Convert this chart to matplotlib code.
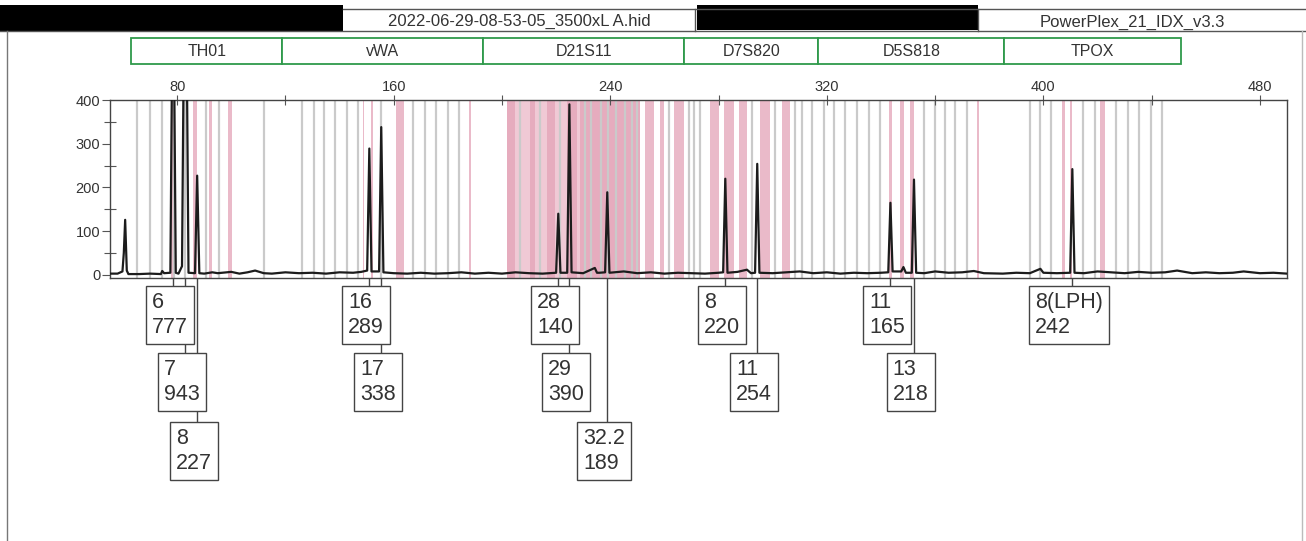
import matplotlib.pyplot as plt
import matplotlib.patches as mpatches

plt.rcParams['font.family'] = ['Liberation Sans', 'DejaVu Sans']

### DATA
header_file = '2022-06-29-08-53-05_3500xL A.hid'
header_kit = 'PowerPlex_21_IDX_v3.3'

loci = ['TH01', 'vWA', 'D21S11', 'D7S820', 'D5S818', 'TPOX']
locus_start = [63.0, 118.8, 193.1, 267.4, 316.9, 385.6]
locus_end = [118.8, 193.1, 267.4, 316.9, 385.6, 450.7]

# bins (bp)
gray_bins = [65.3, 70.0, 74.3, 78.9, 83.0, 90.6, 95.3, 112.2, 126.3, 130.4,
             134.4, 138.5, 142.7, 146.8, 155.3, 167.3, 171.6, 175.7, 179.9,
             184.0, 206.8, 214.1, 221.5, 230.5, 233.0, 236.5, 239.0, 242.0,
             245.5, 248.0, 250.0, 261.6, 269.0, 270.8, 273.3, 292.4, 301.0,
             308.4, 310.8, 314.5, 318.9, 322.5, 326.9, 331.2, 335.5, 339.8,
             355.8, 359.9, 363.8, 367.5, 371.8, 395.0, 398.9, 402.9, 414.7,
             418.9, 427.0, 431.2, 435.3, 439.6, 443.9]
pink_start = [77.6, 85.7, 91.7, 98.8, 148.5, 151.7, 161.0, 187.8, 201.8,
              210.5, 216.6, 224.0, 228.9, 253.0, 258.5, 263.4, 277.0, 281.9,
              287.4, 295.4, 303.5, 342.9, 347.2, 350.9, 375.5, 406.9, 410.0,
              421.1]
pink_end = [78.4, 87.5, 93.0, 100.4, 149.1, 152.3, 163.8, 188.4, 204.9,
            212.3, 219.7, 227.7, 251.1, 256.0, 259.7, 267.1, 280.0, 285.6,
            290.5, 299.1, 306.5, 344.1, 348.4, 352.1, 376.3, 408.1, 410.6,
            422.6]
pale_start = [201.8]
pale_end = [251.1]

# trace (bp, RFU)
trace_bp = [55, 58, 59.8, 60.3, 60.8, 61.4, 62, 66, 70, 74, 74.5, 75.2, 77.5,
            78.5, 79.5, 80.5, 81.8, 83.0, 84.2, 86.6, 87.4, 88.2, 90, 93, 95,
            100, 103, 106, 108.8, 112, 115, 120, 125, 130, 135, 140, 145, 148,
            150.2, 151.0, 151.8, 154.6, 155.4, 156.2, 160, 165, 170, 175, 180,
            185, 190, 195, 200, 205, 210, 215, 220.0, 220.8, 221.6, 224.1,
            224.9, 225.7, 230, 234.3, 235.1, 236, 238.1, 238.9, 239.7, 245,
            250, 255, 260, 265, 270, 275, 280, 281.7, 282.5, 283.3, 287,
            290.5, 292, 293.5, 294.3, 295.1, 300, 305, 310, 315, 320, 325, 330,
            335, 340, 342.7, 343.5, 344.3, 347.5, 348.3, 349.2, 351.4, 352.2,
            353, 356, 360, 365, 370, 374.3, 378, 385, 390, 395, 398.9, 400,
            405, 409.9, 410.7, 411.5, 415, 420, 425, 430, 435, 440, 445, 449.4,
            455, 460, 465, 470, 474, 480, 485, 490]
trace_rfu = [3, 3, 8, 50, 126, 10, 2, 2, 3, 2, 9, 4, 5,
             777, 5, 3, 20, 943, 5, 4, 227, 4, 3, 6, 4,
             7, 3, 6, 10, 4, 3, 6, 4, 5, 3, 6, 5, 7,
             10, 289, 8, 8, 338, 6, 4, 3, 5, 3, 4,
             6, 3, 5, 3, 6, 4, 3, 5, 140, 5, 5,
             390, 6, 4, 16, 5, 5, 6, 189, 5, 8,
             4, 6, 3, 5, 4, 3, 5, 6, 220, 5, 7,
             12, 4, 5, 254, 5, 4, 6, 8, 4, 6, 3, 5,
             4, 5, 6, 165, 8, 8, 18, 5, 5, 218,
             5, 4, 8, 5, 6, 9, 4, 3, 5, 4, 14, 5,
             4, 5, 242, 5, 4, 8, 6, 4, 7, 5, 6, 10,
             4, 6, 4, 5, 8, 4, 5, 3]

# allele calls: size (bp), allele, height, label row
call_bp = [78.5, 83.0, 87.4, 151.0, 155.4, 220.8, 224.9, 238.9, 282.5,
           294.3, 343.5, 352.2, 410.7]
call_allele = ['6', '7', '8', '16', '17', '28', '29', '32.2', '8', '11',
               '11', '13', '8(LPH)']
call_height = [777, 943, 227, 289, 338, 140, 390, 189, 220, 254, 165, 218, 242]
call_row = [0, 1, 2, 0, 1, 0, 1, 2, 0, 1, 0, 1, 0]

### FIGURE
W, H = 1306, 541
fig = plt.figure(figsize=(W / 100, H / 100), dpi=100)
fig.patch.set_facecolor('white')

ax = fig.add_axes([110 / W, 1 - 278 / H, 1177 / W, 178 / H])
ax.set_xlim(55.2, 490)
ax.set_ylim(-7, 400)

ax.axvspan(pale_start[0], pale_end[0], color='#f0c9d5', lw=0, zorder=0.3)
for a, b in zip(pink_start, pink_end):
    ax.axvspan(a, b, color='#e3a3b7', alpha=0.75, lw=0, zorder=0.5)
for x in gray_bins:
    ax.axvline(x, color='#cacaca', lw=1.6, zorder=1)

ax.plot(trace_bp, trace_rfu, color='#1c1c1c', lw=1.6, zorder=3)

ax.xaxis.tick_top()
ax.set_xticks([80, 160, 240, 320, 400, 480])
ax.set_xticks([120, 200, 280, 360, 440], minor=True)
ax.tick_params(axis='x', which='both', direction='inout', length=7, width=0.8,
               top=True, bottom=False, labeltop=True, labelbottom=False,
               labelsize=10.5, labelcolor='#333333', pad=1, color='#555555')
ax.set_yticks([0, 100, 200, 300, 400])
ax.set_yticks([50, 150, 250, 350], minor=True)
ax.tick_params(axis='y', which='major', direction='out', length=6,
               width=0.8, labelsize=10.5, labelcolor='#333333', pad=1,
               color='#555555')
ax.tick_params(axis='y', which='minor', direction='inout', length=8,
               width=0.8, color='#555555')
for s in ax.spines.values():
    s.set_color('#444444')
    s.set_linewidth(1.0)

# locus header boxes
trans = ax.get_xaxis_transform()
for name, a, b in zip(loci, locus_start, locus_end):
    ax.add_patch(mpatches.Rectangle((a, 1.202), b - a, 0.146, transform=trans,
                                    fc='white', ec='#2f9a4b', lw=1.3,
                                    clip_on=False))
    ax.text((a + b) / 2, 1.275, name, transform=trans, ha='center',
            va='center', fontsize=11.5, color='#333333', clip_on=False)

# allele call boxes under the trace
lab = fig.add_axes([110 / W, 0, 1177 / W, 263 / H])
lab.set_xlim(55.2, 490)
lab.set_ylim(263, 0)
lab.axis('off')
row_top = [8, 75, 144]
for bp, al, ht, r in zip(call_bp, call_allele, call_height, call_row):
    lab.plot([bp, bp], [0, row_top[r]], color='#444444', lw=1.0, zorder=1)
    lab.text(bp - 1.2, row_top[r] + 29, f'{al}\n{ht}', ha='center',
             va='center', multialignment='left', fontsize=15.5,
             linespacing=1.2, color='#333333', zorder=2,
             bbox=dict(boxstyle='square,pad=0.28', fc='white', ec='#444444',
                       lw=1.0))

# page header
fig.patches.append(mpatches.Rectangle((0, 1 - 31 / H), 343 / W, 26 / H,
                                      transform=fig.transFigure, fc='black',
                                      ec='none'))
fig.patches.append(mpatches.Rectangle((697 / W, 1 - 30 / H), 281 / W, 25 / H,
                                      transform=fig.transFigure, fc='black',
                                      ec='none'))
fig.add_artist(plt.Line2D([343 / W, 1], [1 - 9 / H, 1 - 9 / H],
                          transform=fig.transFigure, color='#555555', lw=1))
fig.add_artist(plt.Line2D([0, 1], [1 - 31 / H, 1 - 31 / H],
                          transform=fig.transFigure, color='#555555', lw=1))
fig.add_artist(plt.Line2D([695 / W, 695 / W], [1 - 31 / H, 1 - 9 / H],
                          transform=fig.transFigure, color='#555555', lw=1))
fig.add_artist(plt.Line2D([978 / W, 978 / W], [1 - 31 / H, 1 - 9 / H],
                          transform=fig.transFigure, color='#555555', lw=1))
fig.add_artist(plt.Line2D([7 / W, 7 / W], [0, 1 - 31 / H],
                          transform=fig.transFigure, color='#777777', lw=1))
fig.add_artist(plt.Line2D([1302 / W, 1302 / W], [0, 1 - 31 / H],
                          transform=fig.transFigure, color='#bbbbbb', lw=1))
fig.text(519 / W, 1 - 21 / H, header_file, ha='center', va='center',
         fontsize=12, color='#333333')
fig.text(1040 / W, 1 - 22 / H, header_kit, ha='left', va='center',
         fontsize=12, color='#333333')

fig.savefig('out.png', dpi=100)
